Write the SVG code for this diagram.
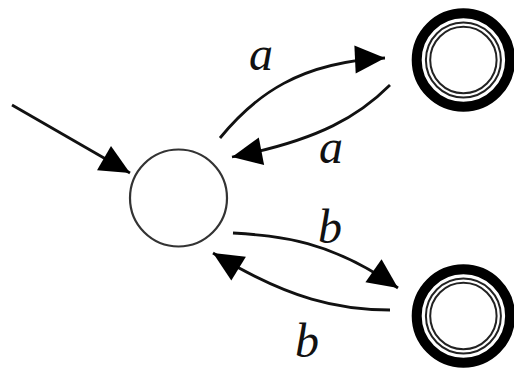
<svg xmlns="http://www.w3.org/2000/svg" width="514" height="368" viewBox="0 0 514 368">
<style>
.edge{fill:none;stroke:#111;stroke-width:2.8;marker-end:url(#ah)}
.lbl{font-family:"Liberation Serif","Times New Roman",serif;font-style:italic;font-size:48px;fill:#111;text-anchor:middle}
.st{fill:#fff;stroke:#333;stroke-width:2.2}
.thick{fill:#fff;stroke:#000;stroke-width:10}
.thin{fill:none;stroke:#222;stroke-width:2}
</style>
<defs>
<marker id="ah" markerUnits="userSpaceOnUse" markerWidth="34" markerHeight="34" viewBox="-32 -17 34 34" refX="0" refY="0" orient="auto">
<path d="M0,0 L-30,-14 L-30,14 Z" fill="#000"/>
</marker>
</defs>
<rect width="514" height="368" fill="#fff"/>
<g id="q0">
<circle class="st" cx="178.5" cy="198" r="48.5"/>
</g>
<g id="q1">
<circle class="thick" cx="463.4" cy="60" r="46.7"/>
<circle class="thin" cx="463.4" cy="60" r="37.5"/>
<circle class="thin" cx="463.4" cy="60" r="33.2" stroke-width="1.5"/>
</g>
<g id="q2">
<circle class="thick" cx="463.4" cy="316" r="46.7"/>
<circle class="thin" cx="463.4" cy="316" r="37.5"/>
<circle class="thin" cx="463.4" cy="316" r="33.2" stroke-width="1.5"/>
</g>
<g id="edges">
<path class="edge" d="M12,105 L130,173"/>
<path class="edge" d="M220,138 C255,95 300,62 385,58"/>
<path class="edge" d="M390,85 C360,115 320,140 232,157"/>
<path class="edge" d="M233,233 C280,236 330,240 398,288"/>
<path class="edge" d="M390,310 C340,310 290,300 213,253"/>
</g>
<g id="labels">
<text class="lbl" x="261" y="70">a</text>
<text class="lbl" x="331" y="163">a</text>
<text class="lbl" x="330" y="243">b</text>
<text class="lbl" x="307" y="357">b</text>
</g>
</svg>
